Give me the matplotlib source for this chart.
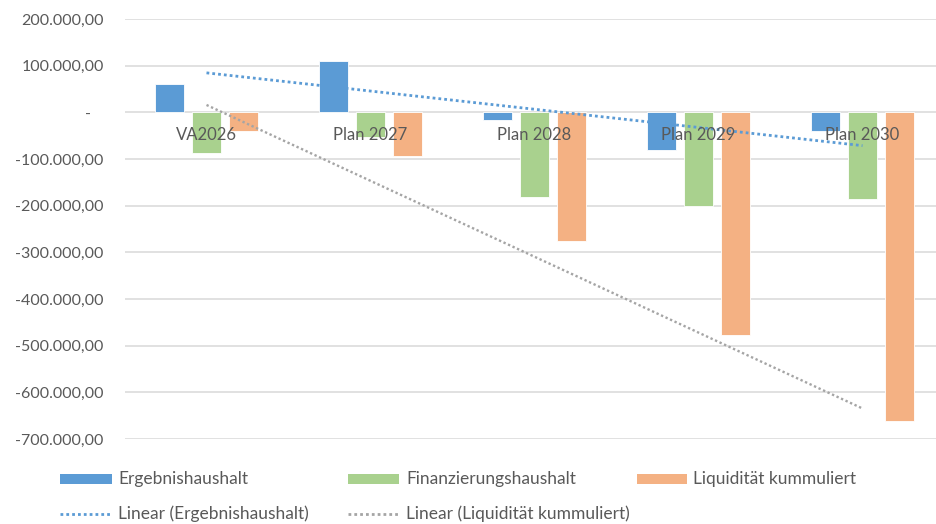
import numpy as np
import matplotlib
matplotlib.use("Agg")
import matplotlib.pyplot as plt
from matplotlib.patches import Rectangle
from matplotlib.lines import Line2D
from matplotlib.ticker import FuncFormatter, MultipleLocator

plt.rcParams['font.family'] = ['Lato', 'DejaVu Sans']

# data
kategorien = ['VA2026', 'Plan 2027', 'Plan 2028', 'Plan 2029', 'Plan 2030']
ergebnishaushalt = [60000, 110000, -17000, -80000, -40000]
finanzierungshaushalt = [-86500, -52000, -181000, -200500, -185000]
liquiditaet = [-40000, -93000, -276000, -477000, -661000]

serien = ['Ergebnishaushalt', 'Finanzierungshaushalt', 'Liquidität kummuliert']
farben = ['#5B9BD5', '#A9D18E', '#F4B183']
grau = '#595959'

W, H = 937, 524
fig = plt.figure(figsize=(W / 100, H / 100), dpi=100)

left_px, top_px, bottom_px = 124.5, 19, 439
cat_px = 164.0
ax = fig.add_axes([left_px / W, 1 - bottom_px / H, (W - left_px) / W, (bottom_px - top_px) / H])

x = np.arange(len(kategorien))
step = 0.225
breite = 0.174
for i, (werte, farbe) in enumerate(zip([ergebnishaushalt, finanzierungshaushalt, liquiditaet], farben)):
    ax.bar(x + (i - 1) * step, werte, width=breite, color=farbe, edgecolor='white', linewidth=0.6, zorder=2)

# linear trendlines (Excel style, x = 1..n)
xt = np.arange(1, len(kategorien) + 1)
for werte, farbe, lw, ls in [(ergebnishaushalt, '#5B9BD5', 2.0, (0, (1, 1.1))),
                             (liquiditaet, '#A5A5A5', 1.7, (0, (1, 1.1)))]:
    k, d = np.polyfit(xt, werte, 1)
    ax.plot(x, k * xt + d, color=farbe, lw=lw, linestyle=ls, zorder=3)

ax.set_ylim(-700000, 200000)
ax.set_xlim(-0.5, (W - left_px) / cat_px - 0.5)
ax.yaxis.set_major_locator(MultipleLocator(100000))


def de_format(v, pos):
    if abs(v) < 1:
        return '-   '
    s = f"{v:,.2f}"
    return s.replace(',', 'X').replace('.', ',').replace('X', '.')


ax.yaxis.set_major_formatter(FuncFormatter(de_format))
ax.grid(axis='y', color='#D9D9D9', lw=1.1, zorder=0)
ax.set_xticks([])
ax.tick_params(axis='y', length=0, pad=15, labelsize=11.5, labelcolor=grau)
for s in ax.spines.values():
    s.set_visible(False)

for i, name in enumerate(kategorien):
    ax.annotate(name, xy=(i, 0), xytext=(0, -16.5), textcoords='offset points',
                ha='center', va='center', fontsize=12, color=grau, zorder=4)

# legend, drawn by hand to keep Excel's even column layout
def fx(px):
    return px / W


def fy(py):
    return 1 - py / H


row1, row2 = 478.7, 514
spalten = [(60, 112, 118), (348, 399, 406), (637, 687, 693)]
for (x0, x1, tx), name, farbe in zip(spalten, serien, farben):
    fig.add_artist(Rectangle((fx(x0), fy(row1 + 5)), fx(x1 - x0), 10 / H,
                             facecolor=farbe, edgecolor='none', transform=fig.transFigure))
    fig.text(fx(tx), fy(row1), name, ha='left', va='center', fontsize=12.5, color=grau)

for (x0, x1, tx), name, farbe in zip(spalten[:2],
                                     ['Linear (Ergebnishaushalt)', 'Linear (Liquidität kummuliert)'],
                                     ['#5B9BD5', '#A5A5A5']):
    fig.add_artist(Line2D([fx(x0), fx(x1)], [fy(row2), fy(row2)], color=farbe, lw=2,
                          linestyle=(0, (1, 1.1)), transform=fig.transFigure))
    fig.text(fx(tx), fy(row2), name, ha='left', va='center', fontsize=12.5, color=grau)

fig.savefig('out.png', dpi=100)
